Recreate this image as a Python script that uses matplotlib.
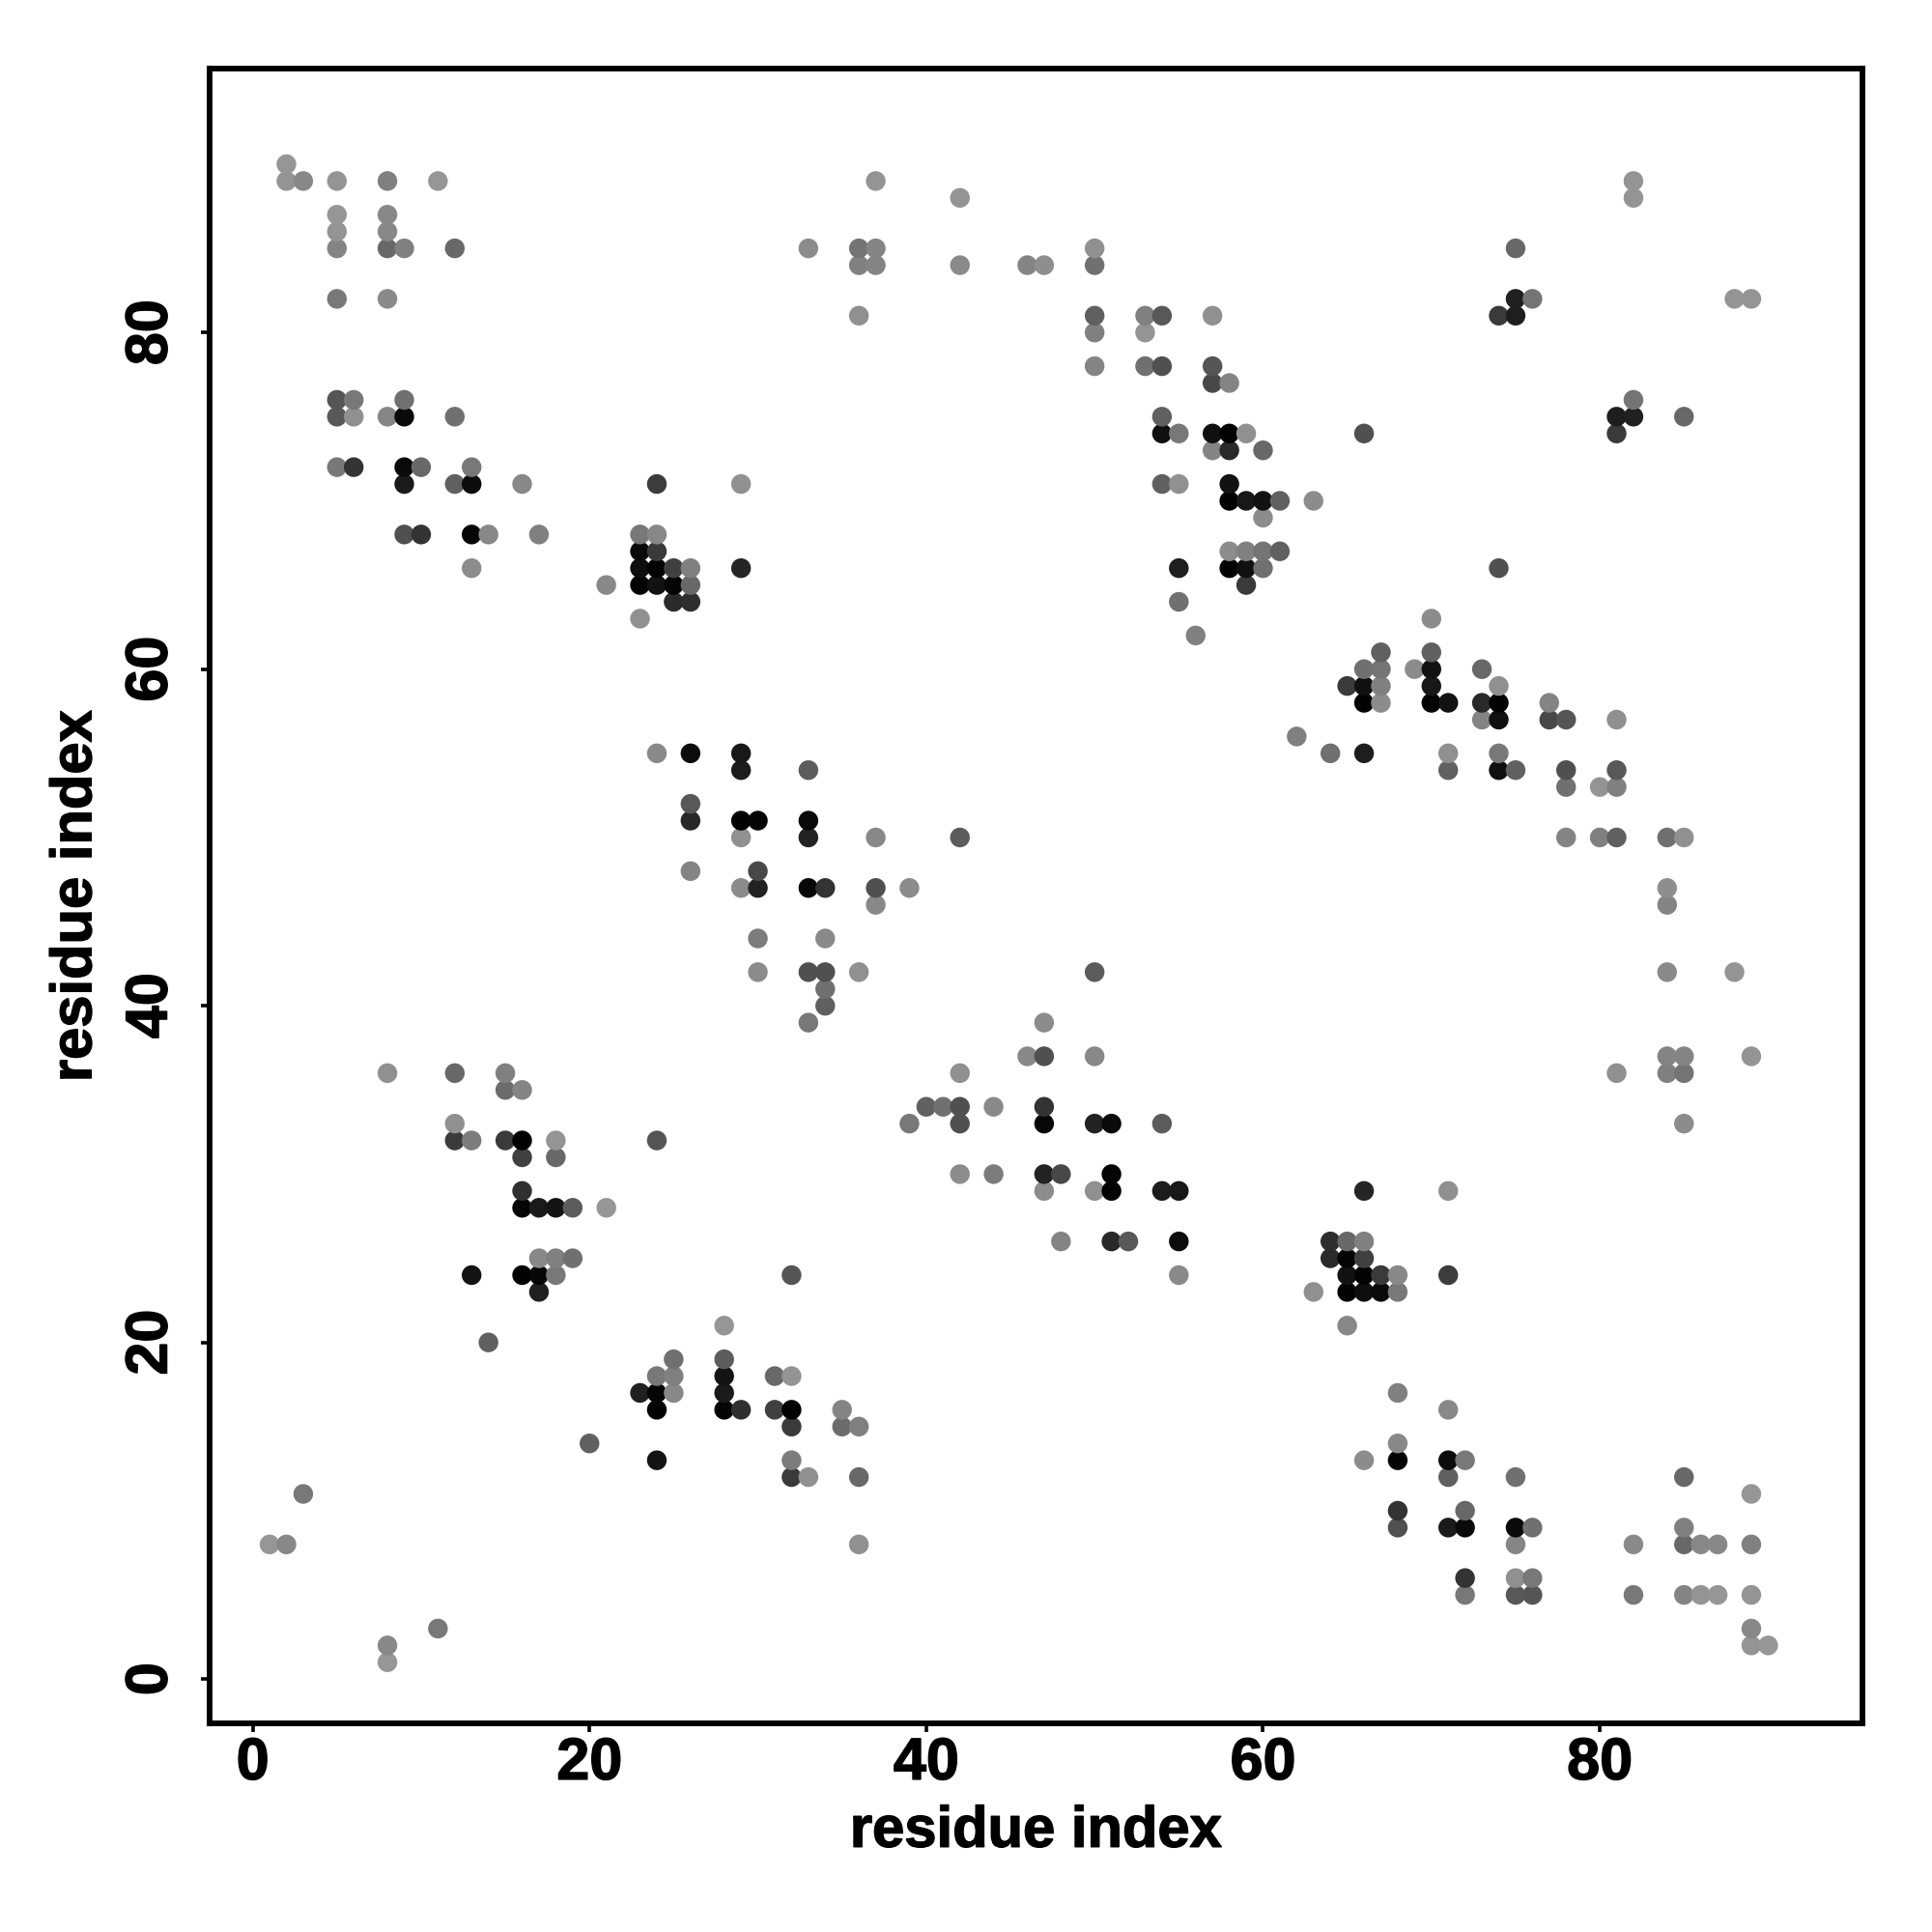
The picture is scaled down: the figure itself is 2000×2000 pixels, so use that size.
import numpy as np
import matplotlib as mpl
mpl.use("Agg")
import matplotlib.pyplot as plt
import matplotlib.patheffects as pe

plt.rcParams["font.family"] = ["Liberation Sans", "DejaVu Sans"]
plt.rcParams["font.weight"] = "bold"

# contact pairs, lower residue index first (the map is symmetric)
res_i = [1, 2, 2, 2, 3, 3,
         5, 5, 5, 5, 5, 5, 5, 5, 6, 6, 6,
         8, 8, 8, 8, 8, 8, 8, 9, 9, 9, 9, 9, 9, 10, 10, 11,
         12, 12, 12, 12, 12, 12, 13, 13, 13, 13, 13, 13, 14, 14, 15, 15, 15,
         16, 16, 16, 16, 16, 16, 16, 17, 17, 17, 17, 17, 18, 18, 18, 18, 18,
         19, 19, 21, 21, 23, 23, 23, 23, 23,
         24, 24, 24, 24, 24, 24, 24, 25, 25, 25,
         26, 26, 26, 26, 26, 26, 26, 29, 29, 29, 29, 29, 29, 29,
         30, 30, 30, 30, 30, 33, 33, 33, 33, 33, 33, 33,
         34, 34, 34, 34, 34, 36, 36, 36, 36, 37, 37, 37, 37, 37, 37,
         39, 42, 42, 42, 46, 47, 50, 50, 50, 50, 50, 53, 53, 53,
         54, 54, 54, 54, 54, 55, 55, 55, 55, 56,
         57, 57, 57, 57, 57, 58, 58, 58, 58, 58, 58, 58,
         59, 59, 59, 59, 59, 60, 60, 60, 60, 60, 61, 61, 63, 66,
         74, 75, 75, 75, 76, 82, 82]
res_j = [8, 8, 89, 90, 11, 89,
         72, 75, 76, 82, 85, 86, 87, 89, 72, 75, 76,
         36, 75, 82, 85, 86, 87, 89, 68, 71, 72, 75, 76, 85, 68, 72, 89,
         32, 33, 36, 71, 75, 85, 24, 32, 66, 68, 71, 72, 20, 68, 32, 35, 36,
         24, 28, 29, 31, 32, 35, 71, 23, 24, 25, 28, 68, 24, 25, 28, 31, 32,
         25, 28, 28, 65, 63, 65, 66, 67, 68,
         32, 55, 65, 66, 67, 68, 71, 64, 65, 66,
         48, 51, 52, 55, 64, 65, 66, 47, 50, 51, 54, 55, 66, 71,
         42, 44, 47, 48, 51, 39, 42, 47, 50, 51, 54, 85,
         40, 41, 42, 44, 47, 42, 81, 84, 85, 46, 47, 50, 84, 85, 89,
         47, 50, 84, 88, 84, 84, 78, 80, 81, 84, 85, 78, 80, 81,
         71, 74, 75, 78, 81, 64, 66, 71, 74, 62,
         73, 74, 77, 78, 81, 66, 67, 70, 71, 73, 74, 77,
         65, 66, 67, 70, 74, 66, 67, 69, 70, 73, 67, 70, 70, 74,
         81, 81, 82, 85, 82, 88, 89]
# grey level of each contact, 0 black to 255 white
shade = [0x96, 0x88, 0x94, 0x96, 0x78, 0x88,
         0x78, 0x58, 0x55, 0x78, 0x84, 0x94, 0x96, 0x94, 0x33, 0x90, 0x78,
         0x90, 0x85, 0x8a, 0x68, 0x88, 0x88, 0x80, 0x50, 0x1a, 0x0a, 0x0a, 0x70, 0x80, 0x33, 0x68, 0x96,
         0x3a, 0x90, 0x68, 0x60, 0x70, 0x68, 0x14, 0x7c, 0x8c, 0x05, 0x0c, 0x78, 0x60, 0x88, 0x3a, 0x6c, 0x80,
         0x03, 0x05, 0x30, 0x40, 0x03, 0x84, 0x88, 0x20, 0x06, 0x88, 0x1a, 0x80, 0x78, 0x80, 0x14, 0x68, 0x94,
         0x70, 0x5c, 0x96, 0x88, 0x90, 0x03, 0x0e, 0x0a, 0x78,
         0x55, 0x8a, 0x12, 0x03, 0x3a, 0x88, 0x3c, 0x2a, 0x05, 0x40,
         0x84, 0x28, 0x58, 0x0c, 0x2e, 0x68, 0x80, 0x8c, 0x90, 0x03, 0x1c, 0x18, 0x25, 0x90,
         0x8c, 0x7c, 0x22, 0x48, 0x05, 0x78, 0x50, 0x08, 0x22, 0x0a, 0x5c, 0x8c,
         0x60, 0x70, 0x50, 0x8a, 0x33, 0x90, 0x90, 0x80, 0x74, 0x88, 0x50, 0x88, 0x84, 0x84, 0x94,
         0x8c, 0x5c, 0x8a, 0x94, 0x84, 0x8e, 0x84, 0x80, 0x60, 0x70, 0x90, 0x70, 0x94, 0x80,
         0x60, 0x10, 0x60, 0x50, 0x58, 0x70, 0x1e, 0x90, 0x78, 0x80,
         0x84, 0x10, 0x48, 0x55, 0x90, 0x03, 0x8c, 0x03, 0x12, 0x2a, 0x03, 0x84,
         0x3a, 0x10, 0x80, 0x18, 0x90, 0x70, 0x74, 0x8c, 0x12, 0x68, 0x60, 0x60, 0x8c, 0x50,
         0x3a, 0x1e, 0x20, 0x68, 0x74, 0x94, 0x94]

tick_vals = [0, 20, 40, 60, 80]

xs = np.array(res_i + res_j)
ys = np.array(res_j + res_i)
greys = np.array(shade + shade) / 255.0
colors = [(g, g, g) for g in greys]

fig = plt.figure(figsize=(10, 10), dpi=200)
ax = fig.add_axes([217 / 2000, 1 - 1784 / 2000, (1928 - 217) / 2000, (1784 - 71) / 2000])

ax.scatter(xs, ys, s=54, c=colors, linewidths=0, zorder=3)

ax.set_xlim(-2.56, 95.6)
ax.set_ylim(-2.63, 95.68)
ax.set_xticks(tick_vals)
ax.set_yticks(tick_vals)
ax.tick_params(axis="x", length=3.3, width=1.3, labelsize=22, pad=1.7)
ax.tick_params(axis="y", length=3.3, width=1.3, labelsize=22, pad=8.0)
for spine in ax.spines.values():
    spine.set_linewidth(2.1)

# the reference type is heavier than Liberation bold
heavy = [pe.withStroke(linewidth=0.5, foreground="black")]
for lab in ax.get_xticklabels():
    lab.set_path_effects(heavy)
for lab in ax.get_yticklabels():
    lab.set_rotation(90)
    lab.set_va("center")
    lab.set_path_effects(heavy)

ax.set_xlabel("residue index", fontsize=21.5, fontweight="bold", labelpad=5.0, path_effects=heavy)
ax.set_ylabel("residue index", fontsize=21.5, fontweight="bold", labelpad=8.0, path_effects=heavy)

fig.savefig("out.png", dpi=200)
plt.close(fig)
